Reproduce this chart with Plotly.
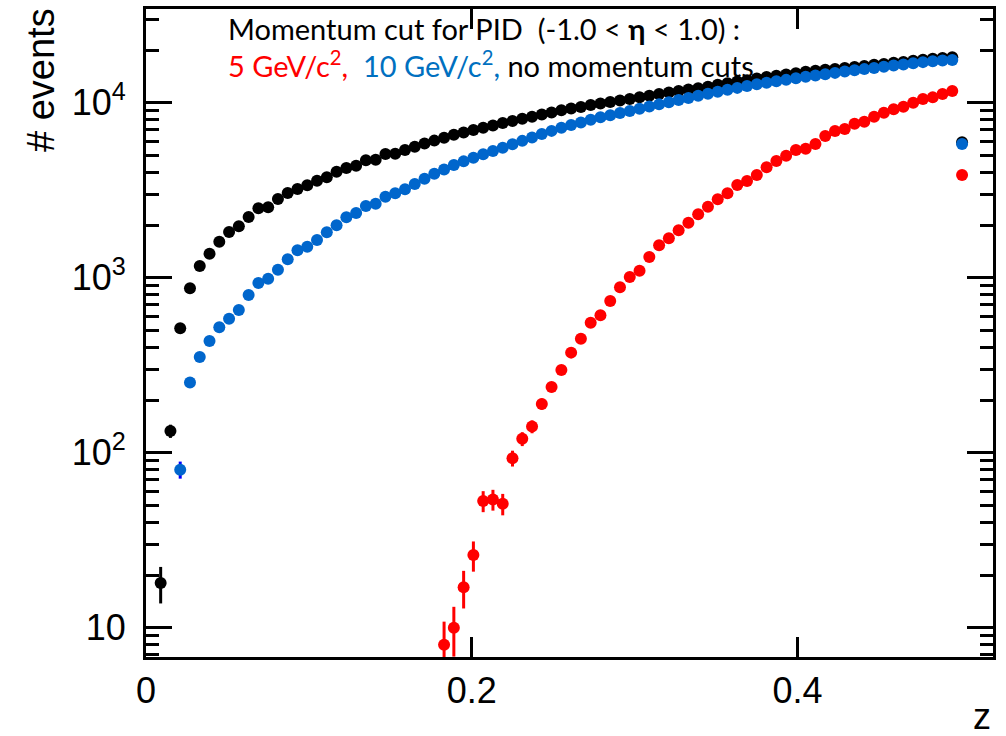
import numpy as np
import plotly.graph_objects as go

# Histogram binning: 100 bins from 0 to 0.6
bin_edges = np.linspace(0.0, 0.6, 101)
bin_centers = 0.5 * (bin_edges[:-1] + bin_edges[1:])

# No momentum cut (black): bins 1..83
black_first_bin = 1
black_counts = [18, 133, 514, 869, 1166, 1371, 1606, 1824, 1966, 2222,
                2492, 2523, 2817, 3048, 3213, 3373, 3583, 3748, 4034, 4236,
                4365, 4690, 4720, 5090, 5110, 5370, 5600, 5850, 6070, 6300,
                6550, 6750, 6980, 7200, 7400, 7650, 7850, 8100, 8300, 8550,
                8800, 9050, 9250, 9450, 9700, 9900, 10100, 10300, 10500, 10750,
                10950, 11200, 11450, 11650, 11900, 12100, 12350, 12650, 12900, 13200,
                13450, 13750, 14000, 14250, 14500, 14750, 15000, 15200, 15400, 15600,
                15800, 16000, 16200, 16450, 16650, 16900, 17100, 17350, 17600, 17800,
                18000, 18200, 5950]

# 10 GeV/c^2 cut (blue): bins 3..83
blue_first_bin = 3
blue_counts = [80, 252, 352, 435, 521, 583, 653, 796, 933, 987,
               1111, 1274, 1435, 1504, 1642, 1817, 1992, 2213, 2344, 2570,
               2648, 2904, 3034, 3199, 3430, 3680, 3920, 4150, 4400, 4620,
               4850, 5080, 5300, 5530, 5780, 6050, 6330, 6620, 6900, 7180,
               7450, 7700, 7980, 8250, 8480, 8720, 8960, 9230, 9500, 9780,
               10050, 10350, 10650, 10950, 11250, 11550, 11850, 12150, 12450, 12750,
               13000, 13250, 13500, 13800, 14050, 14300, 14550, 14800, 15050, 15300,
               15550, 15800, 16050, 16300, 16550, 16800, 17050, 17250, 17400, 17550,
               5800]

# 5 GeV/c^2 cut (red): bins 30..83
red_first_bin = 30
red_counts = [8, 10, 17, 26, 53, 54, 51, 93, 120, 141,
              190, 237, 297, 373, 448, 553, 610, 736, 881, 1009,
              1096, 1313, 1531, 1679, 1866, 2062, 2302, 2545, 2805, 3034,
              3388, 3573, 3862, 4276, 4645, 4977, 5370, 5459, 5805, 6457,
              6887, 7079, 7586, 7780, 8318, 8770, 9166, 9484, 10000, 10500,
              10723, 11210, 11660, 3862]

x_ticks = [0, 0.2, 0.4]
x_ticktext = ["0", "0.2", "0.4"]
y_ticks = [10, 100, 1000, 10000]
y_ticktext = ["10 ", "10<sup>2</sup> ", "10<sup>3</sup> ", "10<sup>4</sup> "]
y_minor = [m * 10 ** d for d in range(0, 5) for m in range(2, 10)]

x_range = [0.0, 0.52]
y_range = [np.log10(6.8), np.log10(34300)]

W, H = 1006, 736
ML, MR, MT, MB = 146, 13, 9, 79
PW, PH = W - ML - MR, H - MT - MB

X_TICKLEN, Y_TICKLEN, Y_MINORLEN = 20, 26, 13


def px(xp):
    return (xp - ML) / PW


def py(yp):
    return (H - MB - yp) / PH


def series(first_bin, counts, color, err_color):
    n = len(counts)
    x = bin_centers[first_bin:first_bin + n]
    y = np.array(counts, dtype=float)
    return go.Scatter(
        x=x, y=y, mode="markers",
        marker=dict(symbol="circle", size=12, color=color, line=dict(width=0)),
        error_y=dict(type="data", array=np.sqrt(y), color=err_color,
                     thickness=3, width=0, visible=True),
        showlegend=False, cliponaxis=True, hoverinfo="x+y",
    )


fig = go.Figure()
fig.add_trace(series(black_first_bin, black_counts, "#000000", "#000000"))
fig.add_trace(series(blue_first_bin, blue_counts, "#0066cc", "#0000ff"))
fig.add_trace(series(red_first_bin, red_counts, "#ff0000", "#ff0000"))

tick_font = dict(family="Liberation Sans, Arial, sans-serif", size=36, color="black")

fig.update_layout(template="none")
fig.update_xaxes(
    range=x_range, tickmode="array", tickvals=x_ticks, ticktext=x_ticktext,
    ticks="inside", ticklen=X_TICKLEN, tickwidth=3, tickcolor="black", showticklabels=True,
    showline=True, linewidth=3, linecolor="black", mirror="allticks", layer="above traces",
    showgrid=False, zeroline=False, tickfont=tick_font,
)
fig.update_yaxes(
    type="log", range=y_range, tickmode="array", tickvals=y_ticks, ticktext=y_ticktext,
    ticks="inside", ticklen=Y_TICKLEN, tickwidth=3, tickcolor="black", showticklabels=True,
    minor=dict(tickmode="array", tickvals=y_minor, ticks="inside", ticklen=Y_MINORLEN,
               tickwidth=3, tickcolor="black", showgrid=False),
    showline=True, linewidth=3, linecolor="black", mirror="allticks", layer="above traces",
    showgrid=False, zeroline=False, tickfont=tick_font,
)

ann_font = dict(family="Lato, Open Sans, sans-serif", size=29, color="black")
fig.update_layout(
    width=W, height=H,
    margin=dict(l=ML, r=MR, t=MT, b=MB, pad=0),
    paper_bgcolor="white", plot_bgcolor="white",
    annotations=[
        dict(xref="paper", yref="paper", x=px(226), y=py(28), xanchor="left", yanchor="middle",
             showarrow=False, font=ann_font,
             text="Momentum cut for PID&nbsp;&nbsp;(-1.0 &lt; <b>η</b> &lt; 1.0) :"),
        dict(xref="paper", yref="paper", x=px(226), y=py(64), xanchor="left", yanchor="middle",
             showarrow=False, font=ann_font,
             text="<span style='color:#ff0000'>5 GeV/c<sup>2</sup>,</span>&nbsp;&nbsp;"
                  "<span style='color:#0070c0'>10 GeV/c<sup>2</sup>,</span> no momentum cuts"),
        dict(xref="paper", yref="paper", x=px(41), y=py(6), xanchor="center", yanchor="top",
             textangle=-90, showarrow=False,
             font=dict(family="Liberation Sans, Arial, sans-serif", size=38, color="black"),
             text="# events"),
        dict(xref="paper", yref="paper", x=px(993), y=py(716), xanchor="right", yanchor="middle",
             showarrow=False,
             font=dict(family="Liberation Sans, Arial, sans-serif", size=36, color="black"),
             text="z"),
    ],
)

fig.write_html("out.html")
